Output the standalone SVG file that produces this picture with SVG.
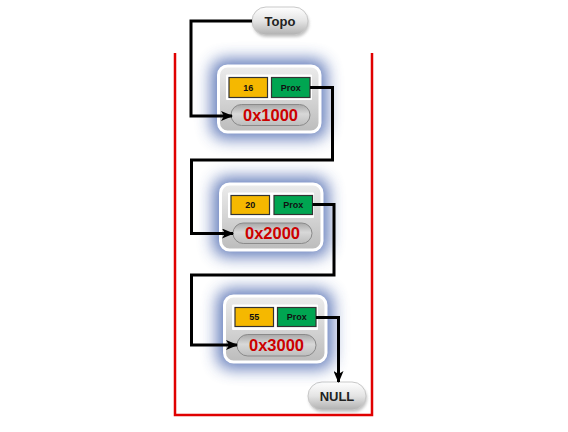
<svg xmlns="http://www.w3.org/2000/svg" width="568" height="432" viewBox="0 0 568 432">
<defs>
<linearGradient id="pill" x1="0" y1="0" x2="0" y2="1">
<stop offset="0" stop-color="#ffffff"/>
<stop offset="0.5" stop-color="#e4e4e4"/>
<stop offset="1" stop-color="#b0b0b0"/>
</linearGradient>
<linearGradient id="card" x1="0" y1="0" x2="0" y2="1">
<stop offset="0" stop-color="#ececec"/>
<stop offset="1" stop-color="#bcbcbc"/>
</linearGradient>
<linearGradient id="addr" x1="0" y1="0" x2="0" y2="1">
<stop offset="0" stop-color="#a8a8a8"/>
<stop offset="0.45" stop-color="#d8d8d8"/>
<stop offset="1" stop-color="#bdbdbd"/>
</linearGradient>
<filter id="glow" x="-40%" y="-50%" width="180%" height="200%">
<feGaussianBlur stdDeviation="8"/>
</filter>
<filter id="shadow" x="-20%" y="-20%" width="140%" height="160%">
<feGaussianBlur stdDeviation="1.5"/>
</filter>
<marker id="arrow" markerWidth="12" markerHeight="10" refX="11" refY="5" orient="auto" markerUnits="userSpaceOnUse">
<path d="M0,0 L12,5 L0,10 L3,5 Z" fill="#000"/>
</marker>
</defs>
<style>
.glow{fill:#5470b4;opacity:0.9;filter:url(#glow)}
.card{fill:url(#card);stroke:#ffffff;stroke-width:3}
.panel{fill:#ffffff}
.val{fill:#f5b800;stroke:#333;stroke-width:1.2}
.prox{fill:#00a551;stroke:#333;stroke-width:1.2}
.addr{fill:url(#addr);stroke:#8a8a8a;stroke-width:1}
.pill{fill:url(#pill);stroke:#c8c8c8;stroke-width:1}
.pshadow{fill:#999;opacity:0.6;filter:url(#shadow)}
.small{font-family:"Liberation Sans",Arial,sans-serif;font-size:9px;font-weight:bold;fill:#111;text-anchor:middle}
.addrt{font-family:"Liberation Sans",Arial,sans-serif;font-size:16.5px;font-weight:bold;fill:#cc0000;text-anchor:middle}
.label{font-family:"Liberation Sans",Arial,sans-serif;font-size:13px;font-weight:bold;fill:#222;text-anchor:middle}
.conn{fill:none;stroke:#000;stroke-width:3;stroke-linejoin:miter}
.frame{fill:none;stroke:#e00000;stroke-width:2.5}
</style>
<rect width="568" height="432" fill="#ffffff"/>
<path class="frame" d="M175,53 V415 H372 V53"/>
<g id="topo">
<rect class="pshadow" x="253" y="10" width="56" height="27" rx="13.5"/>
<rect class="pill" x="252" y="7" width="56" height="28" rx="14"/>
<text class="label" x="280" y="25.5">Topo</text>
</g>
<g id="null">
<rect class="pshadow" x="309" y="385" width="58" height="27" rx="13.5"/>
<rect class="pill" x="308" y="382" width="58" height="28" rx="14"/>
<text class="label" x="337" y="400.5">NULL</text>
</g>
<g id="node1">
<rect class="glow" x="211" y="59" width="116" height="80" rx="14"/>
<rect class="card" x="218.5" y="66" width="101.5" height="66" rx="9"/>
<rect class="panel" x="226" y="74.5" width="86" height="25.5" rx="1"/>
<rect class="val" x="229" y="77.5" width="38.5" height="20"/>
<rect class="prox" x="271.5" y="77.5" width="38.5" height="20"/>
<text class="small" x="248.3" y="90.8">16</text>
<text class="small" x="290.8" y="90.8">Prox</text>
<rect class="addr" x="231" y="104.5" width="79" height="21" rx="10.5"/>
<text class="addrt" x="270.5" y="121">0x1000</text>
</g>
<g id="node2">
<rect class="glow" x="213" y="177" width="116" height="80" rx="14"/>
<rect class="card" x="220.5" y="184" width="101.5" height="66" rx="9"/>
<rect class="panel" x="228" y="192.5" width="86" height="25.5" rx="1"/>
<rect class="val" x="231" y="195.5" width="38.5" height="19"/>
<rect class="prox" x="274" y="195.5" width="38.5" height="19"/>
<text class="small" x="250.3" y="208.3">20</text>
<text class="small" x="293.3" y="208.3">Prox</text>
<rect class="addr" x="233" y="223" width="79" height="20.5" rx="10.25"/>
<text class="addrt" x="272.5" y="239">0x2000</text>
</g>
<g id="node3">
<rect class="glow" x="217" y="289" width="116" height="80" rx="14"/>
<rect class="card" x="224.5" y="296" width="101.5" height="66" rx="9"/>
<rect class="panel" x="232" y="304.5" width="86" height="25.5" rx="1"/>
<rect class="val" x="235" y="307.5" width="38.5" height="19"/>
<rect class="prox" x="277.5" y="307.5" width="38.5" height="19"/>
<text class="small" x="254.3" y="320.3">55</text>
<text class="small" x="296.8" y="320.3">Prox</text>
<rect class="addr" x="237" y="334.5" width="79" height="21.5" rx="10.75"/>
<text class="addrt" x="276.5" y="351">0x3000</text>
</g>
<g id="connectors">
<path class="conn" marker-end="url(#arrow)" d="M252,21 H191 V116 H232"/>
<path class="conn" marker-end="url(#arrow)" d="M310,87.5 H332.5 V160 H191.5 V233.5 H233"/>
<path class="conn" marker-end="url(#arrow)" d="M312.5,204.5 H334 V275 H191.5 V345 H237"/>
<path class="conn" marker-end="url(#arrow)" d="M316,317.5 H338.5 V382"/>
</g>
</svg>
